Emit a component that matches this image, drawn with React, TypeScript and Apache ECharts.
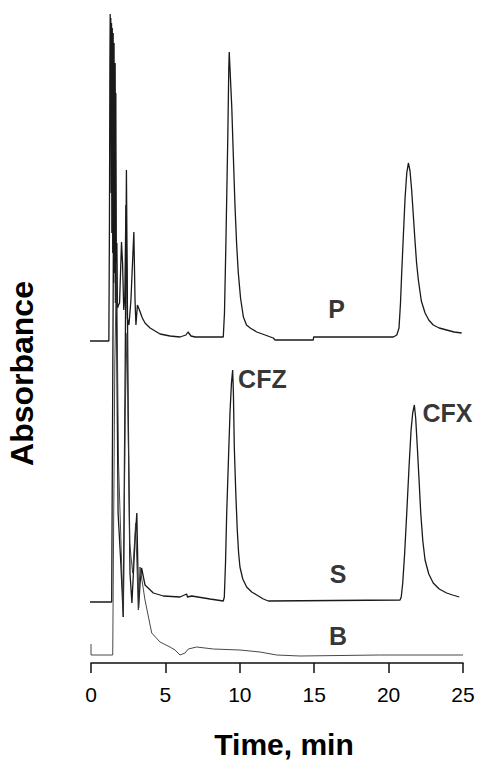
import React, { useEffect, useRef } from "react";
import * as echarts from "echarts";

// Time (min) tick labels
const timeTicks = [0, 5, 10, 15, 20, 25];

// Traces: [time (min), absorbance (arbitrary units, stacked display offset included)]
const traceP: [number, number][] = [
  [-0.16, 355], [-0.16, 322], [1.2, 322], [1.24, 440], [1.27, 600], [1.29, 649], [1.31, 560],
  [1.33, 645], [1.35, 470], [1.38, 640], [1.4, 430], [1.43, 635], [1.46, 410], [1.49, 630],
  [1.52, 380], [1.55, 620], [1.58, 390], [1.61, 600], [1.64, 360], [1.67, 570], [1.7, 365],
  [1.74, 420], [1.78, 355], [1.85, 358], [1.92, 360], [2.05, 421], [2.12, 400], [2.2, 353],
  [2.27, 365], [2.35, 458], [2.44, 345], [2.55, 338], [2.68, 362], [2.88, 431], [2.96, 362],
  [3.02, 338], [3.12, 358], [3.28, 352], [3.45, 345], [3.63, 340], [3.97, 335], [4.64, 329],
  [5.31, 327], [5.98, 326], [6.38, 328], [6.52, 331], [6.72, 327], [7.0, 326], [8.0, 326],
  [8.89, 326], [8.97, 350], [9.07, 423], [9.19, 523], [9.26, 595], [9.29, 611], [9.33, 598],
  [9.46, 556], [9.57, 505], [9.68, 456], [9.79, 418], [9.9, 390], [10.05, 365], [10.24, 346],
  [10.45, 338], [10.7, 335], [11.14, 331], [11.7, 328], [12.25, 325], [12.37, 323],
  [14.94, 323], [14.96, 326], [20.32, 326], [20.55, 328], [20.7, 335], [20.8, 360],
  [20.88, 390], [21.0, 430], [21.1, 463], [21.22, 490], [21.33, 500], [21.44, 492],
  [21.55, 473], [21.66, 448], [21.77, 423], [21.88, 400], [22.0, 383], [22.2, 362],
  [22.45, 350], [22.7, 343], [23.0, 338], [23.4, 335], [23.9, 333], [24.4, 331], [24.91, 330],
];

const traceS: [number, number][] = [
  [-0.13, 92], [-0.13, 61], [1.39, 61], [1.5, 400], [1.6, 600], [1.7, 380], [1.82, 150],
  [2.0, 101], [2.17, 46], [2.3, 300], [2.38, 493], [2.5, 250], [2.62, 90], [2.75, 60],
  [2.95, 120], [3.08, 150], [3.2, 55], [3.3, 80], [3.4, 95], [3.63, 78], [4.19, 70],
  [4.86, 67], [5.98, 66], [6.43, 69], [6.48, 66], [6.77, 67], [8.0, 64], [8.89, 62],
  [8.96, 66], [9.04, 100], [9.12, 150], [9.23, 200], [9.34, 250], [9.44, 280], [9.52, 293],
  [9.57, 270], [9.63, 216], [9.73, 170], [9.83, 133], [9.92, 110], [10.01, 96], [10.2, 84],
  [10.46, 76], [10.8, 71], [11.14, 68], [11.58, 64], [11.92, 62], [20.77, 63], [20.85, 66],
  [20.95, 80], [21.08, 110], [21.22, 150], [21.37, 195], [21.51, 233], [21.62, 250],
  [21.73, 258], [21.82, 245], [21.93, 216], [22.05, 182], [22.16, 150], [22.3, 122],
  [22.45, 103], [22.7, 89], [23.0, 80], [23.4, 74], [23.9, 70], [24.3, 68], [24.75, 66],
];

const traceB: [number, number][] = [
  [0, 19], [0, 8], [1.46, 8], [1.6, 300], [1.72, 400], [1.85, 200], [2.17, 46], [2.3, 250],
  [2.42, 330], [2.6, 120], [2.8, 90], [3.0, 140], [3.18, 53], [3.29, 96], [3.63, 63],
  [4.08, 30], [4.64, 21], [5.31, 16], [5.65, 13], [5.98, 8], [6.32, 10], [6.54, 14],
  [7.1, 16], [8.22, 14], [10.01, 13], [11.36, 11], [12.48, 8], [14.05, 7], [19.4, 8], [25, 8],
];

// Annotations: [time, absorbance, text]
const annotations: [number, number, string][] = [
  [16.51, 354, "P"],
  [16.6, 89, "S"],
  [16.6, 27, "B"],
  [11.52, 284, "CFZ"],
  [23.95, 250, "CFX"],
];

const FONT = "'Liberation Sans', Arial, Helvetica, sans-serif";
const INK = "#000";

export default function App() {
  const ref = useRef<HTMLDivElement>(null);
  useEffect(() => {
    document.body.style.margin = "0";
    const chart = echarts.init(ref.current!, null, { renderer: "svg" });
    const lineSeries = (name: string, data: [number, number][], width: number, color: string) => ({
      type: "line",
      name,
      data,
      showSymbol: false,
      symbol: "none",
      clip: false,
      lineStyle: { color, width },
      emphasis: { disabled: true },
    });
    chart.setOption({
      animation: false,
      backgroundColor: "#fff",
      textStyle: { fontFamily: FONT },
      grid: { left: 91, right: 14, top: 10, bottom: 97, containLabel: false, outerBoundsMode: "none" },
      xAxis: {
        type: "value",
        min: timeTicks[0],
        max: timeTicks[timeTicks.length - 1],
        interval: 5,
        axisLine: { show: true, onZero: false, lineStyle: { color: "#111", width: 1.5 } },
        axisTick: { show: true, length: 10, lineStyle: { color: "#111", width: 1.5 } },
        splitLine: { show: false },
        axisLabel: { fontSize: 21, color: INK, margin: 21, fontFamily: FONT },
        name: "Time, min",
        nameLocation: "middle",
        nameGap: 69,
        nameTextStyle: {
          fontSize: 30,
          lineHeight: 24,
          fontWeight: "bold",
          color: INK,
          fontFamily: FONT,
          padding: [0, 0, 0, 14],
        },
      },
      yAxis: {
        type: "value",
        min: 0,
        max: 653,
        axisLine: { show: false },
        axisTick: { show: false },
        axisLabel: { show: false },
        splitLine: { show: false },
        name: "Absorbance",
        nameLocation: "middle",
        nameRotate: 90,
        nameGap: 53,
        nameTextStyle: { fontSize: 32, fontWeight: "bold", color: INK, fontFamily: FONT, padding: [0, 74, 0, 0] },
      },
      series: [
        lineSeries("P", traceP, 1.3, "#1a1a1a"),
        lineSeries("S", traceS, 1.3, "#1a1a1a"),
        lineSeries("B", traceB, 0.9, "#333"),
        {
          type: "scatter",
          name: "labels",
          data: annotations,
          symbolSize: 1,
          itemStyle: { color: "rgba(0,0,0,0)" },
          clip: false,
          label: {
            show: true,
            position: "inside",
            formatter: (p: any) => p.data[2],
            fontSize: 25,
            fontWeight: "bold",
            color: INK,
            fontFamily: FONT,
          },
          emphasis: { disabled: true },
        },
      ],
    });
    return () => chart.dispose();
  }, []);
  return <div ref={ref} style={{ width: 477, height: 760 }} />;
}
